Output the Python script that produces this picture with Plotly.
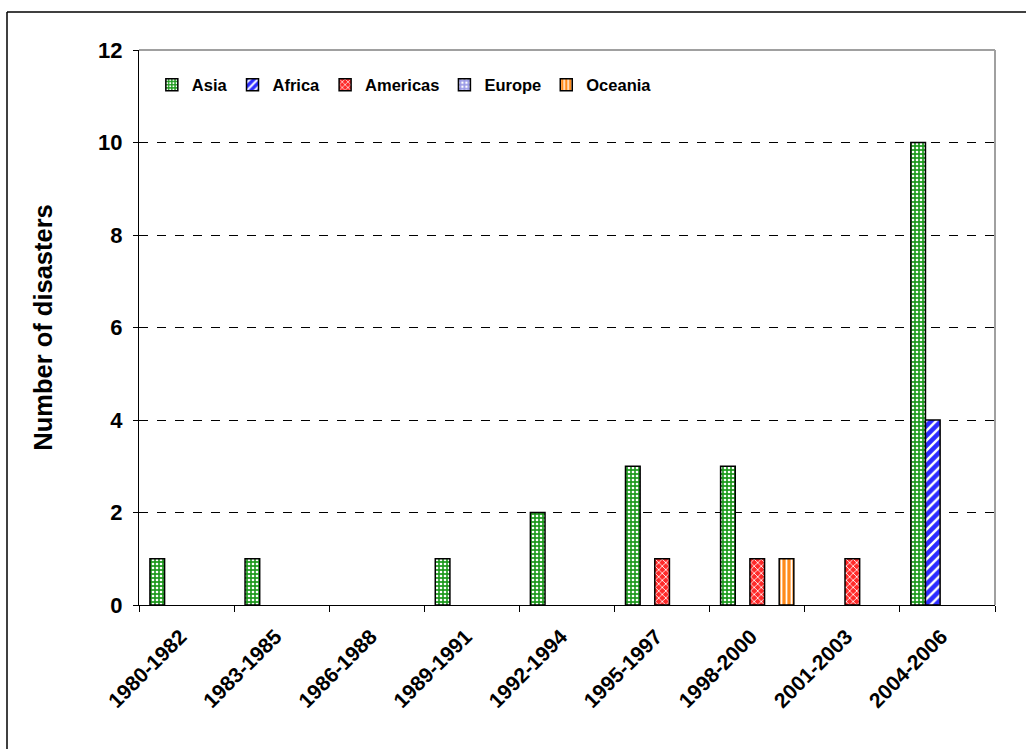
import plotly.graph_objects as go

categories = ["1980-1982", "1983-1985", "1986-1988", "1989-1991", "1992-1994",
              "1995-1997", "1998-2000", "2001-2003", "2004-2006"]
asia = [1, 1, 0, 1, 2, 3, 3, 0, 10]
africa = [0, 0, 0, 0, 0, 0, 0, 0, 4]
americas = [0, 0, 0, 0, 0, 1, 1, 1, 0]
europe = [0, 0, 0, 0, 0, 0, 0, 0, 0]
oceania = [0, 0, 0, 0, 0, 0, 1, 0, 0]

series = [
    ("Asia", asia, "#1f9a1f", ".", 4, 0.35),
    ("Africa", africa, "#2b2bff", "/", 7, 0.35),
    ("Americas", americas, "#ff2a2a", "x", 5, 0.3),
    ("Europe", europe, "#9a9ae6", ".", 5, 0.3),
    ("Oceania", oceania, "#ff8a1a", "|", 5, 0.35),
]

FONT = "Liberation Sans, Arial, sans-serif"

fig = go.Figure()
for name, vals, col, shape, size, sol in series:
    fig.add_trace(go.Bar(
        name=name, x=categories, y=[v if v else None for v in vals],
        marker=dict(
            color=col,
            line=dict(color="black", width=1.5),
            pattern=dict(shape=shape, fgcolor="white", bgcolor=col,
                         size=size, solidity=sol, fillmode="replace"),
        ),
    ))

fig.update_layout(
    width=1026, height=749,
    margin=dict(l=139, r=31, t=50, b=144),
    paper_bgcolor="white", plot_bgcolor="white",
    barmode="group", bargap=0.23, bargroupgap=0,
    font=dict(family=FONT, color="black"),
    showlegend=True,
    legend=dict(orientation="h", x=0.015, y=0.937, xanchor="left", yanchor="middle",
                font=dict(family=FONT, size=16.5, color="black", weight="bold"),
                bgcolor="rgba(0,0,0,0)"),
    xaxis=dict(
        type="category", tickson="boundaries", ticks="outside", ticklen=6,
        tickcolor="black", showline=True, linecolor="black", linewidth=1,
        tickangle=-45, showgrid=False, ticklabelstandoff=10, ticklabelshift=-6,
        tickfont=dict(family=FONT, size=21, color="black", weight="bold"),
    ),
    yaxis=dict(
        range=[0, 12], dtick=2, ticks="outside", ticklen=5, tickcolor="black",
        showline=True, linecolor="black", linewidth=1,
        showgrid=True, gridcolor="black", griddash="dash", gridwidth=1,
        zeroline=False, ticklabelstandoff=6,
        tickfont=dict(family=FONT, size=22, color="black", weight="bold"),
        title=dict(text="Number of disasters", standoff=38,
                   font=dict(family=FONT, size=25.5, color="black", weight="bold")),
    ),
)

# plot-area frame (grey top and right edges)
fig.add_shape(type="line", xref="paper", yref="paper", x0=0, x1=1, y0=1, y1=1,
              line=dict(color="#a0a0a0", width=2), layer="above")
fig.add_shape(type="line", xref="paper", yref="paper", x0=1, x1=1, y0=0, y1=1,
              line=dict(color="#a0a0a0", width=2), layer="above")
# outer chart border (left and top visible)
fig.add_shape(type="line", xref="paper", yref="paper",
              x0=(7 - 139) / 856, x1=(1030 - 139) / 856,
              y0=(605 - 12) / 555, y1=(605 - 12) / 555,
              line=dict(color="black", width=1.5))
fig.add_shape(type="line", xref="paper", yref="paper",
              x0=(7 - 139) / 856, x1=(7 - 139) / 856,
              y0=(605 - 12) / 555, y1=(605 - 760) / 555,
              line=dict(color="black", width=1.5))

fig.write_html("out.html")
